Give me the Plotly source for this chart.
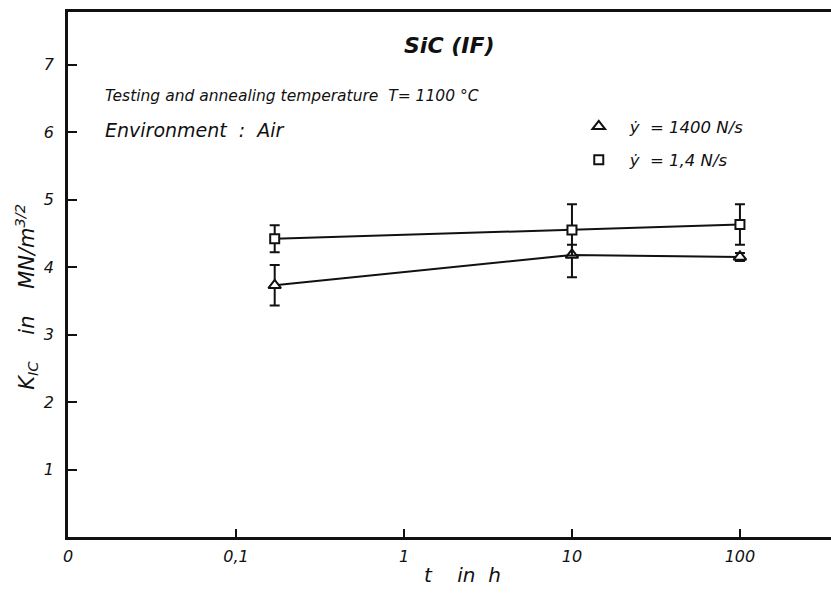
import plotly.graph_objects as go

# Data
t_hours = [0.17, 10, 100]
k_fast = [3.73, 4.18, 4.15]          # triangle, 1400 N/s
k_fast_err_plus = [0.30, 0.15, 0.06]
k_fast_err_minus = [0.30, 0.33, 0.06]
k_slow = [4.42, 4.55, 4.63]          # square, 1.4 N/s
k_slow_err_plus = [0.20, 0.38, 0.30]
k_slow_err_minus = [0.20, 0.38, 0.30]

x_tickvals = [0.01, 0.1, 1, 10, 100]
x_ticktext = ["0", "0,1", "1", "10", "100"]
y_tickvals = [1, 2, 3, 4, 5, 6, 7]

FONT = "DejaVu Sans"
black = "#111111"

fig = go.Figure()

# connecting lines
fig.add_trace(go.Scatter(x=t_hours, y=k_fast, mode="lines",
                         line=dict(color=black, width=2), showlegend=False, hoverinfo="skip"))
fig.add_trace(go.Scatter(x=t_hours, y=k_slow, mode="lines",
                         line=dict(color=black, width=2), showlegend=False, hoverinfo="skip"))

# markers with error bars
fig.add_trace(go.Scatter(
    x=t_hours, y=k_fast, mode="markers", name="ẏ  = 1400 N/s", legendgroup="a",
    marker=dict(symbol="triangle-up", size=11, color="white", line=dict(color=black, width=2)),
    error_y=dict(type="data", symmetric=False, array=k_fast_err_plus, arrayminus=k_fast_err_minus,
                 color=black, thickness=2, width=5)))
fig.add_trace(go.Scatter(
    x=t_hours, y=k_slow, mode="markers", name="ẏ  = 1,4 N/s", legendgroup="b",
    marker=dict(symbol="square", size=9, color="white", line=dict(color=black, width=2)),
    error_y=dict(type="data", symmetric=False, array=k_slow_err_plus, arrayminus=k_slow_err_minus,
                 color=black, thickness=2, width=5)))

fig.update_layout(
    width=831, height=593,
    margin=dict(l=68, r=0, t=12, b=56),
    paper_bgcolor="white", plot_bgcolor="white",
    font=dict(family=FONT, color=black, style="italic"),
    showlegend=True,
    legend=dict(x=0.655, y=0.815, xanchor="left", yanchor="top",
                bgcolor="rgba(0,0,0,0)", font=dict(size=16.5, family=FONT, style="italic"),
                tracegroupgap=9, traceorder="grouped", itemwidth=52),
    xaxis=dict(type="log", range=[-2, 2.542], tickvals=x_tickvals, ticktext=x_ticktext,
               showgrid=False, zeroline=False, showline=True, linecolor=black, linewidth=2.5,
               mirror=True, ticks="inside", ticklen=8, tickwidth=2, tickcolor=black,
               ticklabelstandoff=3,
               tickfont=dict(size=16, family=FONT, style="italic")),
    yaxis=dict(range=[0, 7.78], tickvals=y_tickvals,
               showgrid=False, zeroline=False, showline=True, linecolor=black, linewidth=2.5,
               ticks="inside", ticklen=9, tickwidth=2, tickcolor=black,
               ticklabelstandoff=8,
               tickfont=dict(size=16, family=FONT, style="italic")),
)

fig.add_annotation(text="K<sub>IC</sub>    in    MN/m<sup>3/2</sup>", xref="paper", yref="paper",
                   x=-0.056, y=0.5, xanchor="center", yanchor="middle", textangle=-90,
                   showarrow=False, yshift=-22,
                   font=dict(size=21, family=FONT, style="italic"))
fig.add_annotation(text="t    in  h", xref="paper", yref="paper",
                   x=0.517, y=-0.072, xanchor="center", yanchor="middle",
                   showarrow=False, font=dict(size=20, family=FONT, style="italic"))
fig.add_annotation(text="<b>SiC (IF)</b>", xref="paper", yref="paper", x=0.5, y=0.937,
                   xanchor="center", yanchor="middle", showarrow=False,
                   font=dict(size=22, family=FONT, style="italic"))
fig.add_annotation(text="Testing and annealing temperature  T= 1100 °C", xref="paper", yref="paper",
                   x=0.046, y=0.84, xanchor="left", yanchor="middle", showarrow=False,
                   font=dict(size=15.5, family=FONT, style="italic"))
fig.add_annotation(text="Environment  :  Air", xref="paper", yref="paper",
                   x=0.046, y=0.775, xanchor="left", yanchor="middle", showarrow=False,
                   font=dict(size=19, family=FONT, style="italic"))

fig.write_html("out.html")
